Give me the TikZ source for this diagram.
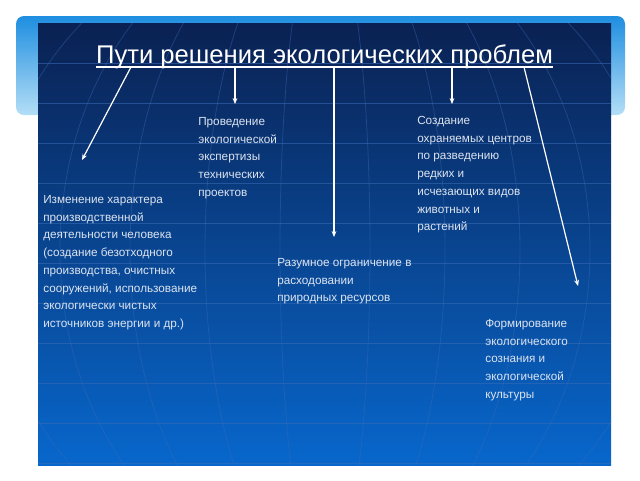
\documentclass[tikz,border=0pt]{standalone}
\usepackage{fontspec}
\setmainfont{Liberation Sans}
\usetikzlibrary{arrows.meta}
\definecolor{bandtop}{HTML}{1E8EE0}
\definecolor{bandbot}{HTML}{B4DEF6}
\definecolor{slidetop}{HTML}{0A2152}
\definecolor{slidemid}{HTML}{0A48A0}
\definecolor{slidebot}{HTML}{0867CC}
\definecolor{gridc}{HTML}{3A6CB8}
\definecolor{txt}{HTML}{DCE4F0}
\tikzset{
  body/.style={anchor=north west, inner sep=0pt, align=left, text=txt,
    font=\fontsize{8.8}{13.3}\selectfont},
  titlestyle/.style={anchor=base, inner sep=0pt, text=white,
    font=\fontsize{19.2}{22}\selectfont},
  conn/.style={draw=white, line width=0.9pt,
    -{Stealth[length=4.5pt,width=3.6pt]}},
  gridline/.style={draw=gridc, line width=0.7pt, opacity=0.55},
  meridian/.style={draw=gridc, line width=0.6pt, opacity=0.4}
}
\begin{document}
\begin{tikzpicture}[x=0.75pt,y=-0.75pt]
\useasboundingbox (0,0) rectangle (640,480);
\fill[white] (0,0) rectangle (640,480);
% light band behind header
\shade[top color=bandtop, bottom color=bandbot, rounded corners=6pt] (16,16) rectangle (625,115);
% slide
\shade[top color=slidetop, middle color=slidemid, bottom color=slidebot] (38,23) rectangle (611,465);
\begin{scope}
  \clip (38,23) rectangle (611,465);
  \foreach \y in {63,103,...,463} \draw[gridline] (38,\y) -- (611,\y);
  \foreach \a in {45,120,195,265,335,410} \draw[meridian] (325,250) ellipse [x radius=\a, y radius=330];
\end{scope}
% title
\node[titlestyle] (title) at (324.5,63) {Пути решения экологических проблем};
\draw[white, line width=0.9pt] ([yshift=-3pt]title.base west) -- ([yshift=-3pt]title.base east);
% start points on the underline
\coordinate (s1) at (131,67);
\coordinate (s2) at (235,67);
\coordinate (s3) at (334,67);
\coordinate (s4) at (452,67);
\coordinate (s5) at (524,67);
% texts
\node[body] (t2) at (198,117) {Проведение\\экологической\\экспертизы\\технических\\проектов};
\node[body] (t4) at (417,116) {Создание\\охраняемых центров\\по разведению\\редких и\\исчезающих видов\\животных и\\растений};
\node[body] (t1) at (43,195) {Изменение характера\\производственной\\деятельности человека\\(создание безотходного\\производства, очистных\\сооружений, использование\\экологически чистых\\источников энергии и др.)};
\node[body] (t3) at (277,258) {Разумное ограничение в\\расходовании\\природных ресурсов};
\node[body] (t5) at (485,319) {Формирование\\экологического\\сознания и\\экологической\\культуры};
% arrow ends
\coordinate (e1) at (82,160);
\coordinate (e2) at (235,104);
\coordinate (e3) at (334,237);
\coordinate (e4) at (452,104);
\coordinate (e5) at (578,286);
\draw[conn] (s1) -- (e1);
\draw[conn] (s2) -- (e2);
\draw[conn] (s3) -- (e3);
\draw[conn] (s4) -- (e4);
\draw[conn] (s5) -- (e5);
\end{tikzpicture}
\end{document}
